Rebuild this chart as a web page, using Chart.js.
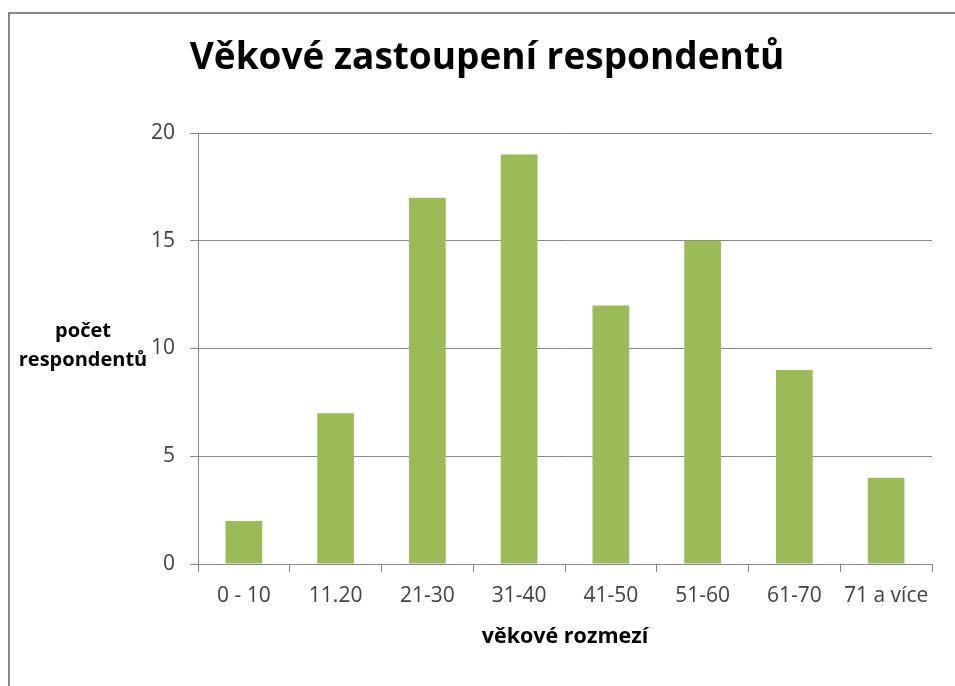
<!DOCTYPE html>
<html lang="cs">
<head>
<meta charset="utf-8">
<title>Věkové zastoupení respondentů</title>
<script src="https://cdn.jsdelivr.net/npm/chart.js@4.4.1/dist/chart.umd.min.js"></script>
<style>
  html, body { margin: 0; padding: 0; background: #fff; }
  #wrap { width: 955px; height: 686px; }
</style>
</head>
<body>
<div id="wrap"><canvas id="ageChart" width="955" height="686"></canvas></div>
<script>
// data
const categories = ['0 - 10', '11.20', '21-30', '31-40', '41-50', '51-60', '61-70', '71 a více'];
const respondents = [2, 7, 17, 19, 12, 15, 9, 4];
const yTicks = [0, 5, 10, 15, 20];

const chartTitle = 'Věkové zastoupení respondentů';
const yTitleLines = ['počet', 'respondentů'];
const xTitle = 'věkové rozmezí';

const FONT = '"Open Sans", Lato, sans-serif';
const GRID = '#868686';

// rámeček, nadpis a popisek osy y
const decorPlugin = {
  id: 'decor',
  beforeDraw(chart) {
    const ctx = chart.ctx;
    ctx.save();
    ctx.fillStyle = '#fff';
    ctx.fillRect(0, 0, chart.width, chart.height);
    ctx.strokeStyle = GRID;
    ctx.lineWidth = 2;
    ctx.beginPath();
    ctx.moveTo(9, chart.height);
    ctx.lineTo(9, 13);
    ctx.lineTo(chart.width, 13);
    ctx.stroke();
    ctx.restore();
  },
  afterDraw(chart) {
    const ctx = chart.ctx;
    ctx.save();
    ctx.fillStyle = '#000';
    ctx.textAlign = 'center';
    ctx.textBaseline = 'alphabetic';
    ctx.font = 'bold 37px ' + FONT;
    ctx.fillText(chartTitle, 487, 69);

    ctx.font = 'bold 20px ' + FONT;
    ctx.fillText(yTitleLines[0], 83, 337);
    ctx.fillText(yTitleLines[1], 83, 366);
    ctx.restore();
  }
};

new Chart(document.getElementById('ageChart'), {
  type: 'bar',
  data: {
    labels: categories,
    datasets: [{
      label: 'počet respondentů',
      data: respondents,
      backgroundColor: '#9BBB59',
      borderWidth: 0,
      barPercentage: 0.4,
      categoryPercentage: 1
    }]
  },
  options: {
    responsive: false,
    animation: false,
    devicePixelRatio: 1,
    layout: { padding: { top: 133, right: 23, bottom: 0, left: 0 } },
    plugins: {
      legend: { display: false },
      tooltip: { enabled: false }
    },
    scales: {
      x: {
        afterFit(scale) { scale.height = 122; },
        grid: {
          offset: true,
          drawOnChartArea: false,
          drawTicks: true,
          tickLength: 8,
          color: GRID
        },
        border: { color: GRID, width: 1 },
        ticks: {
          color: '#404040',
          padding: 11,
          maxRotation: 0,
          autoSkip: false,
          font: { family: FONT, size: 21 }
        },
        title: {
          display: true,
          text: xTitle,
          color: '#000',
          font: { family: FONT, size: 21.5, weight: 'bold' },
          padding: { top: 0, bottom: 36 }
        }
      },
      y: {
        min: 0,
        max: 20,
        afterFit(scale) { scale.width = 198; },
        afterBuildTicks(scale) { scale.ticks = yTicks.map(v => ({ value: v })); },
        grid: {
          color: GRID,
          tickLength: 8,
          drawTicks: true
        },
        border: { color: GRID, width: 1 },
        ticks: {
          color: '#404040',
          padding: 15,
          font: { family: FONT, size: 21 }
        }
      }
    }
  },
  plugins: [decorPlugin]
});
</script>
</body>
</html>
